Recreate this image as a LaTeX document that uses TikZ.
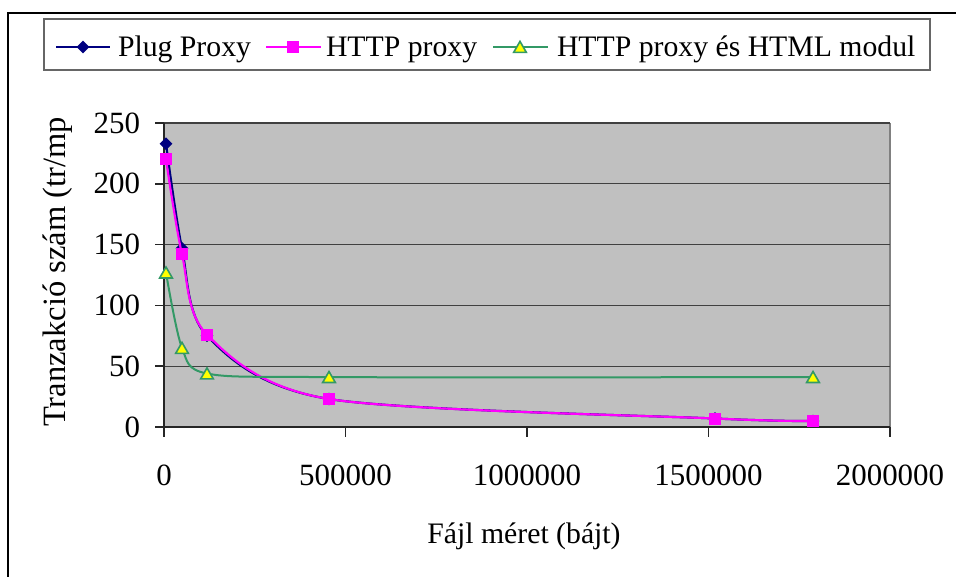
\documentclass[tikz,border=0pt]{standalone}
\usepackage{fontspec}
\setmainfont{Liberation Serif}
\usetikzlibrary{shapes.geometric}
\definecolor{plugc}{RGB}{0,0,128}
\definecolor{httpc}{RGB}{255,0,255}
\definecolor{htmlc}{RGB}{51,153,102}
\definecolor{markyel}{RGB}{255,255,0}
\definecolor{plotbg}{RGB}{192,192,192}
\definecolor{gridc}{RGB}{64,64,64}

\begin{document}
\begin{tikzpicture}[x=0.75pt,y=-0.75pt,
  lbl/.style={font=\fontsize{22.3}{26}\selectfont, inner sep=0pt, outer sep=0pt},
  ticklbl/.style={lbl, font=\fontsize{23.2}{27}\selectfont},
  titlelbl/.style={lbl, font=\fontsize{24.4}{28}\selectfont},
  gridline/.style={draw=gridc, line width=0.9pt},
  axisline/.style={draw=black!85, line width=1.1pt},
  plugline/.style={draw=plugc, line width=1.6pt},
  httpline/.style={draw=httpc, line width=1.6pt},
  htmlline/.style={draw=htmlc, line width=1.5pt},
  dmark/.style={diamond, fill=plugc, inner sep=0pt, minimum width=9.8pt, minimum height=9.8pt},
  smark/.style={rectangle, fill=httpc, inner sep=0pt, minimum size=9pt},
  tmark/.style={regular polygon, regular polygon sides=3, fill=markyel, draw=htmlc,
    line width=1.2pt, inner sep=0pt, minimum size=11pt, yshift=-1.3pt},
  curve/.style={smooth, tension=0.5}
]
\useasboundingbox (0,0) rectangle (956,577);
\clip (0,0) rectangle (956,577);
\fill[white] (0,0) rectangle (956,577);

% outer chart frame
\draw[line width=1.7pt] (8,600) |- (980,13);

% legend
\draw[draw=black!60, line width=0.9pt, fill=white] (44,19) rectangle (930,70);
\coordinate (la1) at (56,47);  \coordinate (la2) at (110,47);
\draw[plugline] (la1) -- (la2);
\node[dmark] (ld) at (83,47) {};
\node[lbl, anchor=base west] (lt1) at (118,56.5) {Plug Proxy};
\coordinate (lb1) at (266,47); \coordinate (lb2) at (321,47);
\draw[httpline] (lb1) -- (lb2);
\node[smark] (ls) at (293,47) {};
\node[lbl, anchor=base west] (lt2) at (326,56.5) {HTTP proxy};
\coordinate (lc1) at (493,47); \coordinate (lc2) at (548,47);
\draw[htmlline] (lc1) -- (lc2);
\node[tmark] (lm) at (520,47) {};
\node[lbl, anchor=base west] (lt3) at (557,56.5) {HTTP proxy és HTML modul};

% plot area
\fill[plotbg] (164,123) rectangle (890,427);
\draw[draw=gray, line width=0.9pt] (890,123) -- (890,427);
\foreach \v in {50,100,...,250} {
  \draw[gridline] (164,427-\v*1.216) -- (890,427-\v*1.216);
}
\foreach \v in {0,50,...,250} {
  \draw[axisline] (155,427-\v*1.216) -- (164,427-\v*1.216);
  \node[ticklbl, anchor=east] (y\v) at (140,427-\v*1.216) {\v};
}
\draw[axisline] (164,123) -- (164,437);
\draw[axisline] (164,427) -- (890,427);
\foreach \t/\xp in {0/164,500000/345.5,1000000/527,1500000/708.5,2000000/890} {
  \draw[axisline] (\xp,427) -- (\xp,437);
  \node[ticklbl, anchor=base] (x\t) at (\xp,485) {\t};
}

% axis titles
\node[lbl, anchor=base] (xtitle) at (524,543) {Fájl méret (bájt)};
\node[titlelbl, anchor=base, rotate=90] (ytitle) at (65,272) {Tranzakció szám (tr/mp};

% series: Plug Proxy
\coordinate (p1) at (166,143.7); \coordinate (p2) at (182,248.2);
\coordinate (p3) at (207,335.8); \coordinate (p4) at (329,399);
\coordinate (p5) at (715,418.5); \coordinate (p6) at (813,421);
\draw[plugline] plot[curve] coordinates {(p1) (p2) (p3) (p4) (p5) (p6)};
\foreach \i in {1,...,6} { \node[dmark] (pm\i) at (p\i) {}; }

% series: HTTP proxy
\coordinate (h1) at (166,159.5); \coordinate (h2) at (182,254.3);
\coordinate (h3) at (207,334.6); \coordinate (h4) at (329,399);
\coordinate (h5) at (715,418.5); \coordinate (h6) at (813,421);
\draw[httpline] plot[curve] coordinates {(h1) (h2) (h3) (h4) (h5) (h6)};
\foreach \i in {1,...,6} { \node[smark] (hm\i) at (h\i) {}; }

% series: HTTP proxy with HTML module
\coordinate (m1) at (166,272.6); \coordinate (m2) at (182,348);
\coordinate (m3) at (207,373.5); \coordinate (m4) at (329,377.1);
\coordinate (m5) at (813,377.1);
\draw[htmlline] plot[curve] coordinates {(m1) (m2) (m3) (m4) (m5)};
\foreach \i in {1,...,5} { \node[tmark] (mm\i) at (m\i) {}; }
\end{tikzpicture}
\end{document}
